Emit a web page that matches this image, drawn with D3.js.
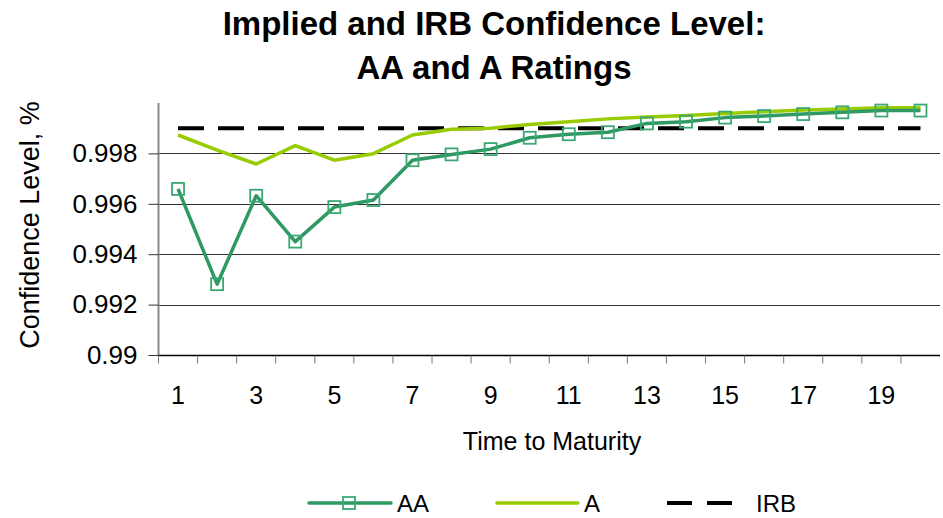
<!DOCTYPE html>
<html>
<head>
<meta charset="utf-8">
<script src="https://cdn.jsdelivr.net/npm/d3@7"></script>
<style>
  body { margin: 0; background: #fff; }
  text { font-family: Arial, "Liberation Sans", sans-serif; fill: #000; }
</style>
</head>
<body>
<div id="vizArea"></div>
<script>
// data
const maturities = [1, 2, 3, 4, 5, 6, 7, 8, 9, 10, 11, 12, 13, 14, 15, 16, 17, 18, 19, 20];
const aaValues = [0.99659, 0.99281, 0.99632, 0.99450, 0.99587, 0.99615, 0.99773, 0.99796, 0.99817, 0.99862,
                  0.99876, 0.99884, 0.99919, 0.99926, 0.99942, 0.99948, 0.99956, 0.99963, 0.99970, 0.99970];
const aValues = [0.99873, 0.99813, 0.99758, 0.99831, 0.99773, 0.99799, 0.99873, 0.99896, 0.99900, 0.99915,
                 0.99926, 0.99937, 0.99944, 0.99950, 0.99958, 0.99965, 0.99972, 0.99976, 0.99981, 0.99981];
const irbValues = [0.999, 0.999, 0.999, 0.999, 0.999, 0.999, 0.999, 0.999, 0.999, 0.999,
                   0.999, 0.999, 0.999, 0.999, 0.999, 0.999, 0.999, 0.999, 0.999, 0.999];
const yTicks = [0.99, 0.992, 0.994, 0.996, 0.998];
const xLabels = [1, 3, 5, 7, 9, 11, 13, 15, 17, 19];
const titleLines = ["Implied and IRB Confidence Level:", "AA and A Ratings"];

const width = 943, height = 518;
const margin = {top: 103, right: 3, bottom: 163, left: 158.5};

const aaColor = "#2e9962", aaMarker = "#3ba873", aColor = "#99cc00";

const svg = d3.select("#vizArea")
    .append("svg")
    .attr("width", width)
    .attr("height", height);

const x = d3.scaleBand()
    .domain(maturities)
    .range([margin.left, width - margin.right])
    .padding(0);

const y = d3.scaleLinear()
    .domain([0.99, 1.0])
    .range([height - margin.bottom, margin.top]);

const cx = d => x(d) + x.bandwidth() / 2;

// title
svg.append("g").selectAll("text")
    .data(titleLines)
    .join("text")
    .attr("x", 494)
    .attr("y", (d, i) => 35 + i * 44)
    .attr("text-anchor", "middle")
    .style("font-size", "33px")
    .style("font-weight", "bold")
    .text(d => d);

// gridlines
svg.append("g").selectAll("line")
    .data(yTicks.filter(t => t > 0.99))
    .join("line")
    .attr("x1", margin.left)
    .attr("x2", width - margin.right)
    .attr("y1", d => Math.round(y(d)) + 0.5)
    .attr("y2", d => Math.round(y(d)) + 0.5)
    .attr("stroke", "#333")
    .attr("stroke-width", 1);

// y axis
const yAxis = svg.append("g")
    .attr("transform", `translate(${margin.left},0)`)
    .call(d3.axisLeft(y).tickValues(yTicks).tickSize(10).tickPadding(11).tickFormat(d => String(+d.toFixed(3))));
yAxis.select(".domain").attr("stroke", "#888").attr("stroke-width", 2).attr("d", `M0,${y(1.0)}V${y(0.99)}`);
yAxis.selectAll(".tick line").attr("stroke", "#333");
yAxis.selectAll(".tick text").style("font-size", "26px").style("font-family", "Arial, 'Liberation Sans', sans-serif");

// x axis (ticks between categories)
const xAxisG = svg.append("g")
    .attr("transform", `translate(0,${Math.round(y(0.99)) + 0.5})`);
xAxisG.append("line")
    .attr("x1", margin.left).attr("x2", width - margin.right)
    .attr("stroke", "#000").attr("stroke-width", 1.5);
xAxisG.selectAll("line.tk")
    .data(maturities)
    .join("line")
    .attr("class", "tk")
    .attr("x1", d => x(d)).attr("x2", d => x(d))
    .attr("y1", 0).attr("y2", 8)
    .attr("stroke", "#777");
xAxisG.selectAll("text")
    .data(xLabels)
    .join("text")
    .attr("x", d => cx(d))
    .attr("y", 48)
    .attr("text-anchor", "middle")
    .style("font-size", "25px")
    .text(d => d);

// axis titles
svg.append("text")
    .attr("x", 552)
    .attr("y", 450)
    .attr("text-anchor", "middle")
    .style("font-size", "25px")
    .text("Time to Maturity");

svg.append("text")
    .attr("transform", `translate(39,${(y(0.99) + y(1.0)) / 2 - 4}) rotate(-90)`)
    .attr("text-anchor", "middle")
    .style("font-size", "27px")
    .text("Confidence Level, %");

// lines
const line = d3.line()
    .x((d, i) => cx(maturities[i]))
    .y(d => y(d));

svg.append("path")
    .datum(irbValues)
    .attr("fill", "none")
    .attr("stroke", "#000")
    .attr("stroke-width", 4)
    .attr("stroke-dasharray", "26,14")
    .attr("d", line);

svg.append("path")
    .datum(aValues)
    .attr("fill", "none")
    .attr("stroke", aColor)
    .attr("stroke-width", 3.5)
    .attr("stroke-linejoin", "round")
    .attr("d", line);

svg.append("path")
    .datum(aaValues)
    .attr("fill", "none")
    .attr("stroke", aaColor)
    .attr("stroke-width", 3.5)
    .attr("stroke-linejoin", "round")
    .attr("d", line);

svg.append("g").selectAll("rect")
    .data(aaValues)
    .join("rect")
    .attr("x", (d, i) => cx(maturities[i]) - 6)
    .attr("y", d => y(d) - 6)
    .attr("width", 12)
    .attr("height", 12)
    .attr("fill", "none")
    .attr("stroke", aaMarker)
    .attr("stroke-width", 1.8);

// legend
const legendY = 503;
const legend = svg.append("g");
legend.append("line")
    .attr("x1", 309).attr("x2", 391).attr("y1", legendY).attr("y2", legendY)
    .attr("stroke", aaColor).attr("stroke-width", 3.5).attr("stroke-linecap", "round");
legend.append("rect")
    .attr("x", 343).attr("y", legendY - 6).attr("width", 12).attr("height", 12)
    .attr("fill", "none").attr("stroke", aaMarker).attr("stroke-width", 1.8);
legend.append("text")
    .attr("x", 397).attr("y", legendY + 9).style("font-size", "24px").text("AA");

legend.append("line")
    .attr("x1", 497).attr("x2", 578).attr("y1", legendY).attr("y2", legendY)
    .attr("stroke", aColor).attr("stroke-width", 3.5).attr("stroke-linecap", "round");
legend.append("text")
    .attr("x", 584).attr("y", legendY + 9).style("font-size", "24px").text("A");

legend.append("line")
    .attr("x1", 667).attr("x2", 732).attr("y1", legendY).attr("y2", legendY)
    .attr("stroke", "#000").attr("stroke-width", 4).attr("stroke-dasharray", "25,15");
legend.append("text")
    .attr("x", 756).attr("y", legendY + 9).style("font-size", "24px").text("IRB");
</script>
</body>
</html>
